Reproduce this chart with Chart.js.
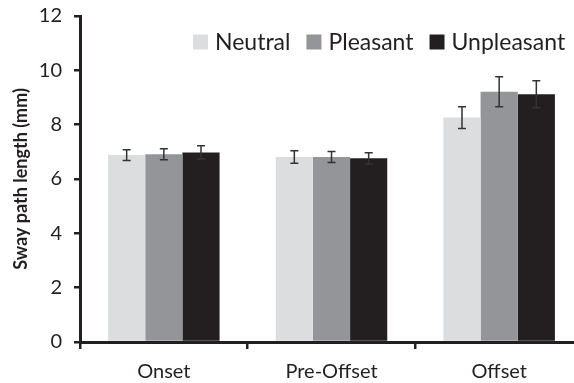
<!DOCTYPE html>
<html>
<head>
<meta charset="utf-8">
<script src="https://cdn.jsdelivr.net/npm/chart.js@4"></script>
<style>
  html, body { margin: 0; padding: 0; background: #fff; overflow: hidden; }
  #wrap { width: 574px; height: 383px; overflow: hidden; }
  #box { width: 583px; height: 383px; }
</style>
</head>
<body>
<div id="wrap"><div id="box"><canvas id="chart"></canvas></div></div>
<script>
// ---- data ----
const categories = ["Onset", "Pre-Offset", "Offset"];
const seriesNames = ["Neutral", "Pleasant", "Unpleasant"];
const neutral = [6.88, 6.81, 8.26];
const pleasant = [6.91, 6.81, 9.21];
const unpleasant = [6.98, 6.76, 9.12];
const neutralErr = [0.2, 0.23, 0.4];
const pleasantErr = [0.2, 0.2, 0.55];
const unpleasantErr = [0.24, 0.21, 0.5];
const yTicks = [0, 2, 4, 6, 8, 10, 12];

const seriesValues = [neutral, pleasant, unpleasant];
const seriesErrors = [neutralErr, pleasantErr, unpleasantErr];
const seriesColors = ["#dcdddf", "#939598", "#231f20"];
const textColor = "#231f20";

// error bars drawn from the bar elements and the y scale
const errorBars = {
    id: "errorBars",
    afterDatasetsDraw(chart) {
        const ctx = chart.ctx;
        const y = chart.scales.y;
        ctx.save();
        ctx.lineWidth = 1.5;
        ctx.strokeStyle = "#333";
        chart.data.datasets.forEach((ds, i) => {
            chart.getDatasetMeta(i).data.forEach((bar, j) => {
                const v = ds.data[j];
                const e = seriesErrors[i][j];
                const top = y.getPixelForValue(v + e);
                const bot = y.getPixelForValue(v - e);
                ctx.beginPath();
                ctx.moveTo(bar.x, top);
                ctx.lineTo(bar.x, bot);
                ctx.moveTo(bar.x - 4, top);
                ctx.lineTo(bar.x + 4, top);
                ctx.moveTo(bar.x - 4, bot);
                ctx.lineTo(bar.x + 4, bot);
                ctx.stroke();
            });
        });
        ctx.restore();
    }
};

// legend in the top right of the plot
const topLegend = {
    id: "topLegend",
    afterDraw(chart) {
        const ctx = chart.ctx;
        ctx.save();
        ctx.font = "23px Lato";
        ctx.textBaseline = "middle";
        let x = 193;
        const cy = 42;
        chart.data.datasets.forEach((ds) => {
            ctx.fillStyle = ds.backgroundColor;
            ctx.fillRect(x, cy - 7.5, 15, 15);
            x += 22;
            ctx.fillStyle = textColor;
            ctx.fillText(ds.label, x, cy + 1);
            x += ctx.measureText(ds.label).width + 16;
        });
        ctx.restore();
    }
};

new Chart(document.querySelector("#chart"), {
    type: "bar",
    data: {
        labels: categories,
        datasets: seriesNames.map((name, i) => ({
            label: name,
            data: seriesValues[i],
            backgroundColor: seriesColors[i],
            borderWidth: 0,
            barPercentage: 1,
            categoryPercentage: 0.665
        }))
    },
    options: {
        responsive: true,
        maintainAspectRatio: false,
        animation: false,
        layout: {
            padding: { top: 16, right: 0, left: 0, bottom: 0 }
        },
        plugins: {
            legend: { display: false },
            tooltip: { enabled: false }
        },
        scales: {
            x: {
                offset: true,
                grid: {
                    display: true,
                    offset: true,
                    drawOnChartArea: false,
                    drawTicks: true,
                    tickLength: 7,
                    color: "#231f20",
                    lineWidth: 2.5
                },
                border: { color: "#231f20", width: 3 },
                ticks: {
                    color: textColor,
                    font: { family: "Lato", size: 20 },
                    padding: 11
                },
                afterFit(scale) {
                    scale.height = 41;
                    scale.paddingLeft = 0;
                    scale.paddingRight = 0;
                }
            },
            y: {
                min: 0,
                max: 12,
                afterBuildTicks(scale) {
                    scale.ticks = yTicks.map(v => ({ value: v }));
                },
                grid: {
                    display: true,
                    drawOnChartArea: false,
                    drawTicks: true,
                    tickLength: 6,
                    color: "#231f20",
                    lineWidth: 2.5
                },
                border: { color: "#231f20", width: 3 },
                ticks: {
                    color: textColor,
                    font: { family: "Lato", size: 20 },
                    padding: 12
                },
                title: {
                    display: true,
                    text: "Sway path length (mm)",
                    color: textColor,
                    font: { family: "Lato", size: 18, weight: "bold" },
                    padding: { top: 10, bottom: 0 }
                },
                afterFit(scale) {
                    scale.width = 80;
                    scale.paddingTop = 0;
                    scale.paddingBottom = 0;
                }
            }
        }
    },
    plugins: [errorBars, topLegend]
});
</script>
</body>
</html>
